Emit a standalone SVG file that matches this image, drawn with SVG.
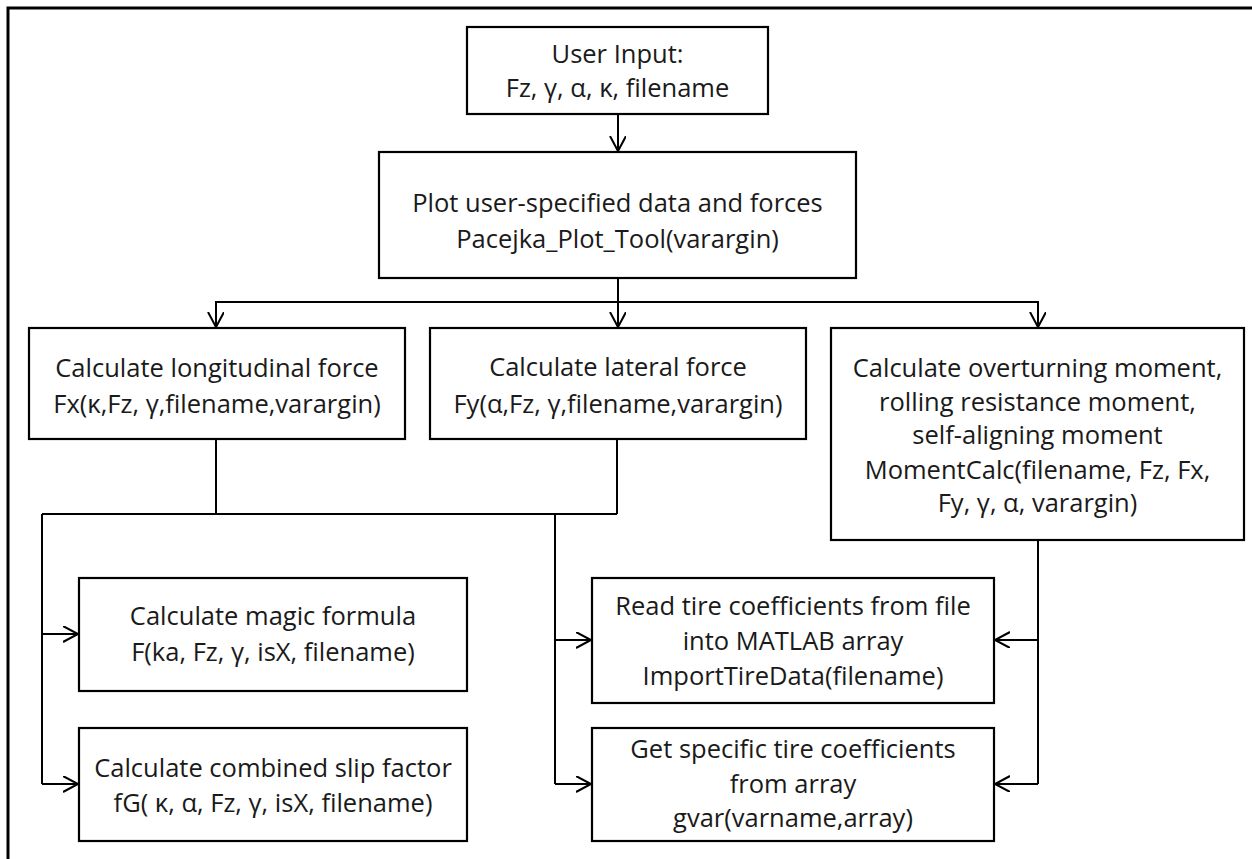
<svg xmlns="http://www.w3.org/2000/svg" width="1252" height="859" viewBox="0 0 1252 859">
<style>
.box{fill:#fff;stroke:#000;stroke-width:2.2}
.t{font-family:"Open Sans",Lato,"Liberation Sans",sans-serif;font-size:25.5px;fill:#1a1a1a;text-anchor:middle}
.c{fill:none;stroke:#000;stroke-width:2}
</style>
<defs>
<marker id="arr" markerUnits="userSpaceOnUse" markerWidth="20" markerHeight="20" refX="15" refY="8" orient="auto">
<path d="M0,0 L15,8 L0,16" fill="none" stroke="#000" stroke-width="2"/>
</marker>
</defs>
<rect x="0" y="0" width="1252" height="859" fill="#fff"/>
<rect x="8" y="8" width="1270" height="880" fill="none" stroke="#000" stroke-width="3"/>
<g id="connectors">
<line class="c" x1="618" y1="114" x2="618" y2="151" marker-end="url(#arr)"/>
<line class="c" x1="618" y1="278" x2="618" y2="327" marker-end="url(#arr)"/>
<polyline class="c" points="216,327 216,302 1038,302 1038,327"/>
<line class="c" x1="216" y1="302" x2="216" y2="327" marker-end="url(#arr)"/>
<line class="c" x1="1038" y1="302" x2="1038" y2="327" marker-end="url(#arr)"/>
<line class="c" x1="216" y1="439" x2="216" y2="514"/>
<line class="c" x1="617" y1="439" x2="617" y2="514"/>
<line class="c" x1="42" y1="514" x2="617" y2="514"/>
<line class="c" x1="42" y1="514" x2="42" y2="784"/>
<line class="c" x1="42" y1="634" x2="78" y2="634" marker-end="url(#arr)"/>
<line class="c" x1="42" y1="784" x2="78" y2="784" marker-end="url(#arr)"/>
<line class="c" x1="555" y1="514" x2="555" y2="784"/>
<line class="c" x1="555" y1="640" x2="591" y2="640" marker-end="url(#arr)"/>
<line class="c" x1="555" y1="784" x2="591" y2="784" marker-end="url(#arr)"/>
<line class="c" x1="1038" y1="540" x2="1038" y2="784"/>
<line class="c" x1="1038" y1="640" x2="995" y2="640" marker-end="url(#arr)"/>
<line class="c" x1="1038" y1="784" x2="995" y2="784" marker-end="url(#arr)"/>
</g>
<g id="userInput">
<rect class="box" x="467" y="27" width="301" height="87"/>
<text class="t" x="617.5" y="63">User Input:</text>
<text class="t" x="617.5" y="97">Fz, γ, α, κ, filename</text>
</g>
<g id="plotTool">
<rect class="box" x="379" y="152" width="477" height="126"/>
<text class="t" x="617.5" y="212">Plot user-specified data and forces</text>
<text class="t" x="617.5" y="248">Pacejka_Plot_Tool(varargin)</text>
</g>
<g id="fx">
<rect class="box" x="29" y="328" width="376" height="111"/>
<text class="t" x="217" y="377">Calculate longitudinal force</text>
<text class="t" x="217" y="413">Fx(κ,Fz, γ,filename,varargin)</text>
</g>
<g id="fy">
<rect class="box" x="430" y="328" width="376" height="111"/>
<text class="t" x="618" y="376">Calculate lateral force</text>
<text class="t" x="618" y="413">Fy(α,Fz, γ,filename,varargin)</text>
</g>
<g id="moment">
<rect class="box" x="831" y="328" width="413" height="212"/>
<text class="t" x="1037.5" y="377">Calculate overturning moment,</text>
<text class="t" x="1037.5" y="411">rolling resistance moment,</text>
<text class="t" x="1037.5" y="444">self-aligning moment</text>
<text class="t" x="1037.5" y="479">MomentCalc(filename, Fz, Fx,</text>
<text class="t" x="1037.5" y="512">Fy, γ, α, varargin)</text>
</g>
<g id="magic">
<rect class="box" x="79" y="578" width="388" height="113"/>
<text class="t" x="273" y="625">Calculate magic formula</text>
<text class="t" x="273" y="661">F(ka, Fz, γ, isX, filename)</text>
</g>
<g id="combined">
<rect class="box" x="79" y="728" width="388" height="113"/>
<text class="t" x="273" y="777">Calculate combined slip factor</text>
<text class="t" x="273" y="812">fG( κ, α, Fz, γ, isX, filename)</text>
</g>
<g id="importTire">
<rect class="box" x="592" y="578" width="402" height="125"/>
<text class="t" x="793" y="615">Read tire coefficients from file</text>
<text class="t" x="793" y="650">into MATLAB array</text>
<text class="t" x="793" y="685">ImportTireData(filename)</text>
</g>
<g id="gvar">
<rect class="box" x="592" y="728" width="402" height="113"/>
<text class="t" x="793" y="758">Get specific tire coefficients</text>
<text class="t" x="793" y="793">from array</text>
<text class="t" x="793" y="827">gvar(varname,array)</text>
</g>
</svg>
